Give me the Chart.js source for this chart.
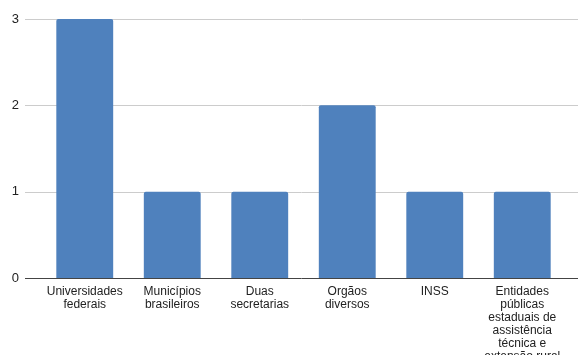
<!DOCTYPE html>
<html>
<head>
<meta charset="utf-8">
<script src="https://cdn.jsdelivr.net/npm/chart.js@4"></script>
<style>
  html, body { margin: 0; padding: 0; background: #fff; }
  #wrap { width: 578px; height: 355px; }
</style>
</head>
<body>
<div id="wrap"><canvas id="chart"></canvas></div>
<script>
// ===== Data =====
const categories = [
  ["Universidades", "federais"],
  ["Municípios", "brasileiros"],
  ["Duas", "secretarias"],
  ["Orgãos", "diversos"],
  ["INSS"],
  ["Entidades", "públicas", "estaduais de", "assistência", "técnica e", "extensão rural"]
];
const counts = [3, 1, 1, 2, 1, 1];
const yTicks = [0, 1, 2, 3];

// full-width gridlines (they start right of the tick labels, past the bars)
const gridPlugin = {
  id: "wideGrid",
  beforeDatasetsDraw(chart) {
    const ctx = chart.ctx;
    const y = chart.scales.y;
    ctx.save();
    yTicks.forEach(v => {
      const py = Math.round(y.getPixelForValue(v)) + 0.5;
      ctx.beginPath();
      ctx.strokeStyle = v === 0 ? "#444" : "#ccc";
      ctx.lineWidth = 1;
      ctx.moveTo(25, py);
      ctx.lineTo(chart.width, py);
      ctx.stroke();
    });
    ctx.restore();
  }
};

const ctx = document.getElementById("chart").getContext("2d");
new Chart(ctx, {
  type: "bar",
  data: {
    labels: categories,
    datasets: [{
      data: counts,
      backgroundColor: "#4f81bd",
      borderRadius: { topLeft: 2, topRight: 2 },
      borderSkipped: "bottom",
      categoryPercentage: 1,
      barPercentage: 0.65
    }]
  },
  options: {
    responsive: true,
    maintainAspectRatio: false,
    animation: false,
    layout: { padding: { top: 19, right: 12, left: 0, bottom: 0 } },
    plugins: { legend: { display: false }, tooltip: { enabled: false } },
    scales: {
      x: {
        grid: { display: false },
        border: { display: false },
        ticks: {
          maxRotation: 0,
          autoSkip: false,
          padding: -1,
          color: "#222",
          font: { family: "Liberation Sans", size: 12, lineHeight: 1.08 }
        },
        afterFit(scale) { scale.height = 77; }
      },
      y: {
        min: 0,
        max: 3,
        grid: { display: false, drawTicks: false },
        border: { display: false },
        ticks: {
          stepSize: 1,
          padding: 22,
          color: "#222",
          font: { family: "Liberation Sans", size: 13 }
        },
        afterFit(scale) {
          scale.width = 41;
          scale.paddingTop = 0;
          scale.paddingBottom = 0;
        }
      }
    }
  },
  plugins: [gridPlugin]
});
</script>
</body>
</html>
